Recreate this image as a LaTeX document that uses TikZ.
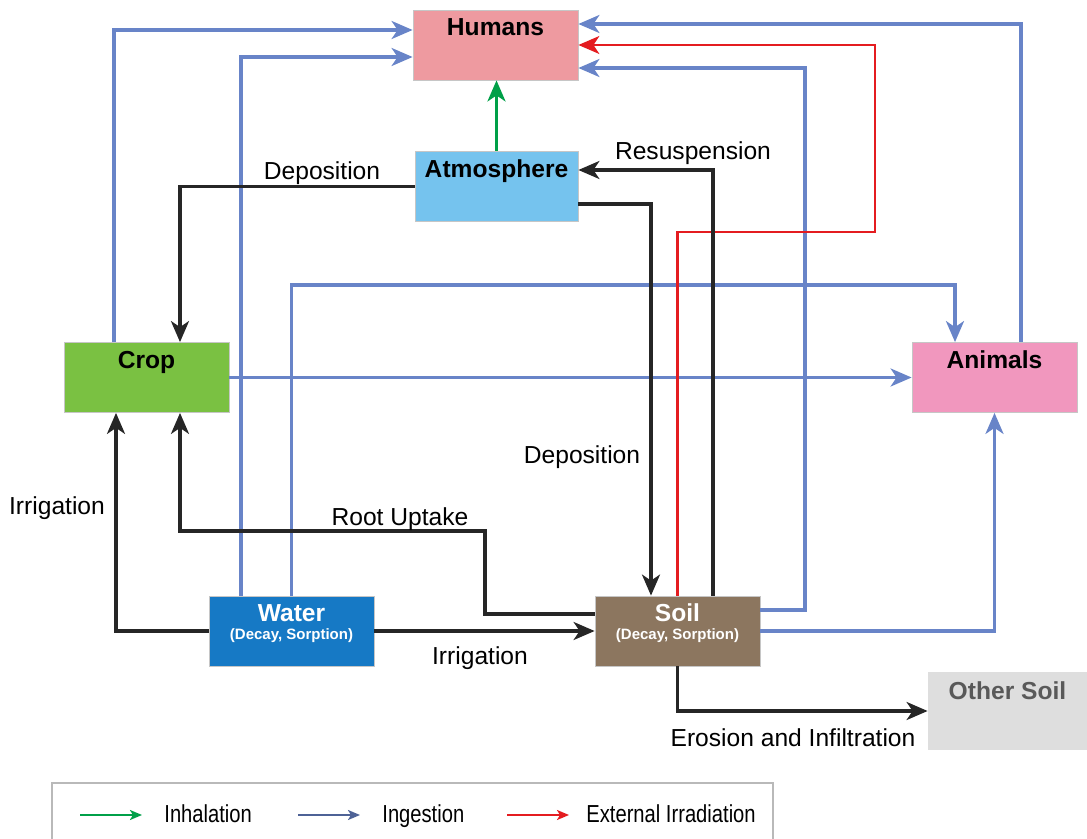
\documentclass[tikz,border=0pt]{standalone}
\usepackage{fontspec}
\setsansfont{Liberation Sans}
\newfontfamily\narrowsf[FakeStretch=0.82]{Liberation Sans}
\usetikzlibrary{arrows.meta}

\definecolor{humanfill}{RGB}{238,154,160}
\definecolor{atmosfill}{RGB}{117,195,238}
\definecolor{cropfill}{RGB}{122,193,66}
\definecolor{animalfill}{RGB}{241,151,190}
\definecolor{waterfill}{RGB}{22,121,197}
\definecolor{soilfill}{RGB}{140,118,95}
\definecolor{otherfill}{RGB}{222,222,222}
\definecolor{ingestblue}{RGB}{104,132,200}
\definecolor{inhalegreen}{RGB}{0,160,72}
\definecolor{irradred}{RGB}{228,28,32}
\definecolor{legendblue}{RGB}{78,98,150}

\tikzset{
  box/.style={rectangle, draw=gray!45, line width=0.4pt, inner sep=0pt,
    minimum width=82.5pt, minimum height=35pt, text height=13pt, text depth=22pt,
    font=\sffamily\bfseries\fontsize{12.3}{14}\selectfont},
  subtext/.style={font=\sffamily\bfseries\fontsize{7.5}{9}\selectfont, text=white, inner sep=0pt},
  lbl/.style={font=\sffamily\fontsize{12.3}{14}\selectfont, anchor=base, inner sep=0pt},
  tip/.style={-{Stealth[length=10.5pt,width=9pt,inset=3pt]}},
  flow/.style={tip, line width=1.6pt, black!85},
  ingest/.style={tip, line width=1.6pt, ingestblue},
  irrad/.style={tip, line width=1.1pt, irradred},
  inhale/.style={tip, line width=1.6pt, inhalegreen},
  keyline/.style={-{Stealth[length=6pt,width=5pt,inset=1.5pt]}, line width=1.1pt},
}

\begin{document}
\begin{tikzpicture}[x=0.5pt, y=-0.5pt]
\useasboundingbox (0,0) rectangle (1087,839);

% compartments
\node (humans)  [box, fill=humanfill]  at (495.5,45)   {Humans};
\node (atmos)   [box, fill=atmosfill, minimum width=81.5pt] at (496.5,186.5) {Atmosphere};
\node (crop)    [box, fill=cropfill]   at (146.5,377.5) {Crop};
\node (animals) [box, fill=animalfill] at (994.5,377.5) {Animals};
\node (water)   [box, fill=waterfill, text=white, text height=12.5pt, text depth=22.5pt] at (291.5,631) {Water};
\node (soil)    [box, fill=soilfill, text=white, text height=12.5pt, text depth=22.5pt]  at (677.5,631) {Soil};
\node (other)   [box, draw=none, fill=otherfill, text=gray!70!black, minimum width=79.5pt,
                 minimum height=39pt, text height=13.5pt, text depth=25.5pt] at (1007.5,711) {Other Soil};

\node (water-sub) [subtext] at (291.5,636) {(Decay, Sorption)};
\node (soil-sub)  [subtext] at (677.5,636) {(Decay, Sorption)};

% bends
\coordinate (feed)   at (955,285);
\coordinate (soilup) at (805,68);
\coordinate (ext)    at (875,232);
\coordinate (root)   at (485,531);

% ingestion
\draw[ingest] ([xshift=-16.25pt]crop.north) |- ([yshift=7.5pt]humans.west);
\draw[ingest] ([xshift=-25.25pt]water.north) |- ([yshift=-6pt]humans.west);
\draw[ingest] (water.north) |- (feed) -- ([xshift=-19.75pt]animals.north);
\draw[ingest] (crop.east) -- (animals.west);
\draw[ingest] ([xshift=13.25pt]animals.north) |- ([yshift=10.5pt]humans.east);
\draw[ingest] ([yshift=10.5pt]soil.east) -| (soilup) -- ([yshift=-11.5pt]humans.east);
\draw[ingest] (soil.east) -| (animals.south);

% external irradiation
\draw[irrad] (soil.north) |- (ext) |- (humans.east);

% inhalation
\draw[inhale] (atmos.north) -- (atmos.north |- humans.south);

% transport between compartments
\draw[flow] (atmos.west) -| ([xshift=16.75pt]crop.north);
\draw[flow] ([yshift=-8.75pt]atmos.east) -| ([xshift=-13.25pt]soil.north);
\draw[flow] ([xshift=17.75pt]soil.north) |- ([yshift=8.25pt]atmos.east);
\draw[flow] ([yshift=8.5pt]soil.west) -| (root) -| ([xshift=16.75pt]crop.south);
\draw[flow] (water.west) -| ([xshift=-15.25pt]crop.south);
\draw[flow] (water.east) -- (soil.west);
\draw[flow] (soil.south) |- (other.west);

\node (dep-crop)  [lbl] at (322,180) {Deposition};
\node (dep-soil)  [lbl] at (582,464) {Deposition};
\node (resusp)    [lbl] at (693,160) {Resuspension};
\node (uptake)    [lbl] at (400,525) {Root Uptake};
\node (irr-crop)  [lbl] at (57,515)  {Irrigation};
\node (irr-soil)  [lbl] at (480,664) {Irrigation};
\node (erosion)   [lbl] at (793,746) {Erosion and Infiltration};

% legend
\draw[gray!55, line width=0.6pt] (52,850) |- (773,783) -- (773,850);
\foreach \xa/\xt/\col/\txt/\nm in {80/164/inhalegreen/Inhalation/inh,
                                   298/382/legendblue/Ingestion/ing,
                                   507/586/irradred/External Irradiation/ext}{
  \coordinate (key-\nm) at (\xa,815);
  \node (txt-\nm) [anchor=base west, inner sep=0pt, font=\narrowsf\fontsize{12.3}{14}\selectfont] at (\xt,822) {\txt};
  \draw[keyline, \col] (key-\nm) -- ++(62,0);
}
\end{tikzpicture}
\end{document}
